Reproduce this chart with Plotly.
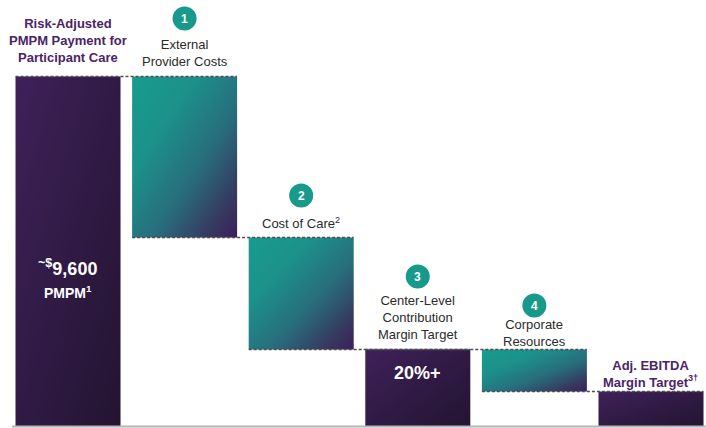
import numpy as np
import plotly.graph_objects as go

# Share of the risk-adjusted PMPM payment (percent)
categories = ["Risk-Adjusted PMPM Payment", "External Provider Costs", "Cost of Care",
              "Center-Level Contribution Margin", "Corporate Resources", "Adj. EBITDA Margin"]
measures = ["absolute", "relative", "relative", "total", "relative", "total"]
values = [100, -46, -32, 0, -12, 0]
bar_text = ["<sup>~$</sup>9,600<br><span style='font-size:14px'>PMPM<sup>1</sup></span>", "", "", "20%+", "", ""]
step_labels = ["Risk-Adjusted<br>PMPM Payment for<br>Participant Care",
               "External<br>Provider Costs",
               "Cost of Care<sup>2</sup>",
               "Center-Level<br>Contribution<br>Margin Target",
               "Corporate<br>Resources",
               "Adj. EBITDA<br>Margin Target<sup>3\u2020</sup>"]
step_numbers = ["", "1", "2", "3", "4", ""]

# Compute base/top of each waterfall bar
bases, tops = [], []
level = 0.0
for m, v in zip(measures, values):
    if m == "absolute":
        b, t = 0.0, float(v)
        level = t
    elif m == "total":
        b, t = 0.0, level
    else:
        b, t = level + v, level
        level = level + v
    bases.append(b)
    tops.append(t)

BAR_W = 0.9
TEAL = "#17998b"
PURPLE_TXT = "#4a2468"
FONT = "Liberation Sans, Arial, sans-serif"

teal_scale = [[0, "#189c8e"], [0.3, "#1c918a"], [0.6, "#286d7c"], [0.85, "#36395f"], [1, "#3c1e5a"]]
purple_scale = [[0, "#3e2159"], [1, "#231431"]]

fig = go.Figure()

# Each bar is a diagonal-gradient heatmap filling its [base, top] interval
n = 40
for i, (m, b, t) in enumerate(zip(measures, bases, tops)):
    xe = np.linspace(i - BAR_W / 2, i + BAR_W / 2, n + 1)
    ye = np.linspace(b, t, n + 1)
    u = (np.arange(n) + 0.5) / n
    vv = (np.arange(n) + 0.5) / n
    z = (u[None, :] + (1 - vv[:, None])) / 2
    fig.add_trace(go.Heatmap(
        x=xe, y=ye, z=z, zmin=0, zmax=1, zsmooth="best",
        colorscale=teal_scale if m == "relative" else purple_scale,
        showscale=False, hoverinfo="skip", name=categories[i]))

# Dashed connectors spanning consecutive bars
for i in range(len(categories) - 1):
    lvl = bases[i] if measures[i] == "relative" else tops[i]
    fig.add_trace(go.Scatter(
        x=[i - BAR_W / 2, i + 1 + BAR_W / 2], y=[lvl, lvl], mode="lines",
        line=dict(color="#4d4d55", width=1.3, dash="3px,2px"),
        hoverinfo="skip", showlegend=False))

# Baseline
fig.add_shape(type="line", xref="x", yref="y", x0=-0.48, x1=5.47, y0=0, y1=0,
              line=dict(color="#b5b5b5", width=2))

# Step labels above each bar (pixel offsets of the text block centre)
label_shift = [36, 24, 15, 32, 17, 18]
for i, txt in enumerate(step_labels):
    bold = i in (0, 5)
    fig.add_annotation(
        x=i, y=tops[i], text=f"<b>{txt}</b>" if bold else txt, showarrow=False,
        yanchor="middle", yshift=label_shift[i],
        font=dict(family=FONT, size=13, color=PURPLE_TXT if bold else "#2b2b2b"))

# Numbered badges
badge_shift = [0, 58, 42, 73, 44, 0]
for i, num in enumerate(step_numbers):
    if not num:
        continue
    s = badge_shift[i]
    fig.add_shape(type="circle", xref="x", yref="y",
                  xsizemode="pixel", ysizemode="pixel",
                  xanchor=i, yanchor=tops[i],
                  x0=-12, x1=12, y0=s - 12, y1=s + 12,
                  fillcolor=TEAL, line=dict(width=0))
    fig.add_annotation(x=i, y=tops[i], text=f"<b>{num}</b>", showarrow=False,
                       yanchor="middle", yshift=s,
                       font=dict(family=FONT, size=12, color="white"))

# Value text inside the total bars
text_shift = {0: -202, 3: -23}
for i, txt in enumerate(bar_text):
    if not txt:
        continue
    fig.add_annotation(x=i, y=tops[i], text=f"<b>{txt}</b>", showarrow=False,
                       yanchor="middle", yshift=text_shift[i],
                       font=dict(family=FONT, size=18, color="white"))

fig.update_xaxes(range=[-0.583, 5.472], visible=False, fixedrange=True)
fig.update_yaxes(range=[-0.43, 121.86], visible=False, fixedrange=True)
fig.update_layout(
    width=706, height=428, margin=dict(l=0, r=0, t=0, b=0),
    paper_bgcolor="white", plot_bgcolor="white", showlegend=False)

fig.write_html("out.html")
